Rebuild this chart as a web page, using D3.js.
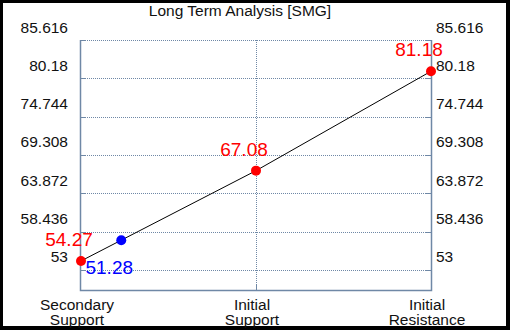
<!DOCTYPE html>
<html>
<head>
<meta charset="utf-8">
<script src="https://cdn.jsdelivr.net/npm/d3@7"></script>
<style>
  body { margin: 0; }
  text { font-family: "Liberation Sans", Arial, sans-serif; }
</style>
</head>
<body>
<script>
// chart data
var title = "Long Term Analysis [SMG]";
var categories = [["Secondary", "Support"], ["Initial", "Support"], ["Initial", "Resistance"]];
var levels = [54.27, 67.08, 81.18];
var tickValues = [53, 58.436, 63.872, 69.308, 74.744, 80.18, 85.616];
var yDomain = [50.15, 85.616];
var currentPrice = 51.28;
var currentPos = 0.23; // position along the category axis (index units)

var width = 510, height = 330;
var plotLeft = 81, plotRight = 431, plotTop = 40, plotBottom = 290;

var svg = d3.select("body").append("svg")
    .attr("width", width)
    .attr("height", height);

// black frame
svg.append("rect").attr("width", width).attr("height", height).attr("fill", "#000");
svg.append("rect").attr("x", 3).attr("y", 3).attr("width", 503).attr("height", 323).attr("fill", "#fff");

var x = d3.scaleLinear().domain([0, categories.length - 1]).range([plotLeft, plotRight]);
var y = d3.scaleLinear().domain(yDomain).range([plotBottom, plotTop]);

var gridColor = "#6f88a6";

// horizontal gridlines
svg.append("g").selectAll("line")
    .data(tickValues)
    .enter().append("line")
    .attr("x1", plotLeft).attr("x2", plotRight)
    .attr("y1", function(d) { return Math.round(y(d)) + 0.5; })
    .attr("y2", function(d) { return Math.round(y(d)) + 0.5; })
    .attr("stroke", gridColor)
    .attr("stroke-dasharray", "1,1");

// little solid ticks inside the side axes
svg.append("g").selectAll("line")
    .data(tickValues)
    .enter().append("line")
    .attr("x1", plotLeft).attr("x2", plotLeft + 5)
    .attr("y1", function(d) { return Math.round(y(d)) + 0.5; })
    .attr("y2", function(d) { return Math.round(y(d)) + 0.5; })
    .attr("stroke", gridColor);
svg.append("g").selectAll("line")
    .data(tickValues)
    .enter().append("line")
    .attr("x1", plotRight - 5).attr("x2", plotRight)
    .attr("y1", function(d) { return Math.round(y(d)) + 0.5; })
    .attr("y2", function(d) { return Math.round(y(d)) + 0.5; })
    .attr("stroke", gridColor);

// vertical gridline for the middle category
var innerCats = d3.range(1, categories.length - 1);
svg.append("g").selectAll("line")
    .data(innerCats)
    .enter().append("line")
    .attr("x1", function(d) { return Math.round(x(d)) + 0.5; })
    .attr("x2", function(d) { return Math.round(x(d)) + 0.5; })
    .attr("y1", plotTop).attr("y2", plotBottom)
    .attr("stroke", gridColor)
    .attr("stroke-dasharray", "1,1");
svg.append("g").selectAll("line")
    .data(innerCats)
    .enter().append("line")
    .attr("x1", function(d) { return Math.round(x(d)) + 0.5; })
    .attr("x2", function(d) { return Math.round(x(d)) + 0.5; })
    .attr("y1", plotBottom - 5).attr("y2", plotBottom)
    .attr("stroke", gridColor);

// axis frame (left, right, bottom)
svg.append("path")
    .attr("d", "M" + (plotLeft - 0.5) + "," + plotTop + "V" + (plotBottom + 0.5) + "H" + (plotRight + 0.5) + "V" + plotTop)
    .attr("fill", "none")
    .attr("stroke", gridColor)
    .attr("stroke-width", 1.5);

// tick labels both sides
svg.append("g").selectAll("text")
    .data(tickValues)
    .enter().append("text")
    .attr("x", plotLeft - 13)
    .attr("y", function(d) { return y(d) - 7.5; })
    .attr("text-anchor", "end")
    .style("font-size", "15.5px")
    .attr("fill", "#111")
    .text(function(d) { return d; });
svg.append("g").selectAll("text")
    .data(tickValues)
    .enter().append("text")
    .attr("x", plotRight + 5)
    .attr("y", function(d) { return y(d) - 7.5; })
    .attr("text-anchor", "start")
    .style("font-size", "15.5px")
    .attr("fill", "#111")
    .text(function(d) { return d; });

// category labels, one text per line
var catLines = [];
categories.forEach(function(c, i) {
  c.forEach(function(s, j) { catLines.push({s: s, i: i, j: j}); });
});
svg.append("g").selectAll("text")
    .data(catLines)
    .enter().append("text")
    .attr("x", function(d) { return x(d.i) - 4; })
    .attr("y", function(d) { return 310 + d.j * 14.5; })
    .attr("text-anchor", "middle")
    .style("font-size", "15.5px")
    .attr("fill", "#111")
    .text(function(d) { return d.s; });

// title
svg.append("text")
    .attr("x", 240)
    .attr("y", 16)
    .attr("text-anchor", "middle")
    .style("font-size", "15.5px")
    .attr("fill", "#111")
    .text(title);

// line through the levels
var line = d3.line()
    .x(function(d, i) { return x(i); })
    .y(function(d) { return y(d); });
svg.append("path")
    .datum(levels)
    .attr("d", line)
    .attr("fill", "none")
    .attr("stroke", "#000")
    .attr("stroke-width", 1);

// current price point sits on the line
var lo = Math.floor(currentPos);
var t = currentPos - lo;
var onLine = levels[lo] + (levels[lo + 1] - levels[lo]) * t;

svg.append("g").selectAll("circle")
    .data(levels)
    .enter().append("circle")
    .attr("cx", function(d, i) { return x(i); })
    .attr("cy", function(d) { return y(d); })
    .attr("r", 5)
    .attr("fill", "#ff0000");

svg.append("g").selectAll("text")
    .data(levels)
    .enter().append("text")
    .attr("x", function(d, i) { return x(i) - 12; })
    .attr("y", function(d) { return y(d) - 15; })
    .attr("text-anchor", "middle")
    .style("font-size", "19px")
    .attr("fill", "#ff0000")
    .text(function(d) { return d.toFixed(2); });

svg.append("circle")
    .attr("cx", x(currentPos))
    .attr("cy", y(onLine))
    .attr("r", 5)
    .attr("fill", "#0000ff");

svg.append("text")
    .attr("x", x(currentPos) - 12)
    .attr("y", y(onLine) + 34)
    .attr("text-anchor", "middle")
    .style("font-size", "19px")
    .attr("fill", "#0000ff")
    .text(currentPrice.toFixed(2));
</script>
</body>
</html>
